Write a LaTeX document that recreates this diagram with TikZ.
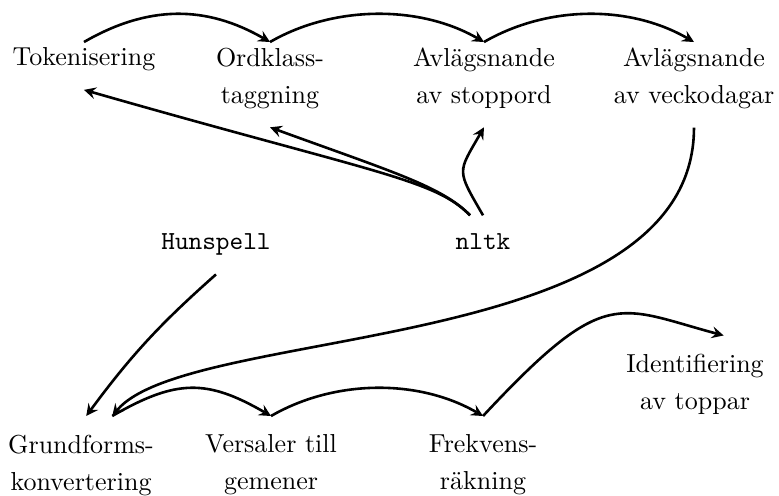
\documentclass[tikz,border=0pt]{standalone}
\usepackage{fontspec}
\usepackage{tikz}
\tikzset{
	stage/.style={anchor=north,align=center,inner xsep=3pt,inner ysep=7pt,font=\fontsize{10}{14.3}\selectfont},
	tool/.style={stage,font=\ttfamily},
	flow/.style={->,>=stealth,line width=1pt},
	hop/.style={out=30,in=150,distance=1cm},
}

\begin{document}
\begin{tikzpicture}
	\useasboundingbox (0,0) rectangle (10.528,6.690);
	
	%STEPS
	\node[stage] (tok) at (1.135,6.298) {Tokenisering};
	\node[stage] (ord) at (3.649,6.298) {Ordklass-\\taggning};
	\node[stage] (stop) at (6.541,6.298) {Avlägsnande\\av stoppord};
	\node[stage] (veck) at (9.379,6.298) {Avlägsnande\\av veckodagar};
	\node[stage] (grund) at (1.095,1.068) {Grundforms-\\konvertering};
	\node[stage] (vers) at (3.663,1.068) {Versaler till\\gemener};
	\node[stage] (frek) at (6.528,1.068) {Frekvens-\\räkning};
	\node[stage] (ident) at (9.393,2.156) {Identifiering\\av toppar};
	
	%TOOLS
	\node[tool] (hun) at (2.919,3.780) {Hunspell};
	\node[tool] (nltk) at (6.528,3.780) {nltk};
	
	%PIPELINE
	\draw[flow] ([yshift=-5pt]tok.north) to[hop] ([yshift=-5pt]ord.north);
	\draw[flow] ([yshift=-5pt]ord.north) to[hop] ([yshift=-5pt]stop.north);
	\draw[flow] ([yshift=-5pt]stop.north) to[hop] ([yshift=-5pt]veck.north);
	\draw[flow] (veck.south) to[out=-90,in=50,out distance=3.11cm,in distance=1.62cm] ([xshift=12pt]grund.north);
	\draw[flow] ([xshift=12pt]grund.north) to[hop] (vers.north);
	\draw[flow] (vers.north) to[hop] (frek.north);
	\draw[flow] (frek.north) to[out=47,in=165,out distance=2.43cm,in distance=1.49cm] ([xshift=11pt]ident.north);
	
	%TOOL LINKS
	\draw[flow] (hun.south) to[bend right=6] ([xshift=2pt]grund.north);
	\draw[flow] ([xshift=-5pt]nltk.north) to[out=134,in=-16,out distance=0.68cm,in distance=4.05cm] (tok.south);
	\draw[flow] ([xshift=-5pt]nltk.north) to[out=134,in=-20,out distance=0.54cm,in distance=1.76cm] (ord.south);
	\draw[flow] (nltk.north) to[out=120,in=-120,distance=0.72cm] (stop.south);
\end{tikzpicture}
\end{document}
